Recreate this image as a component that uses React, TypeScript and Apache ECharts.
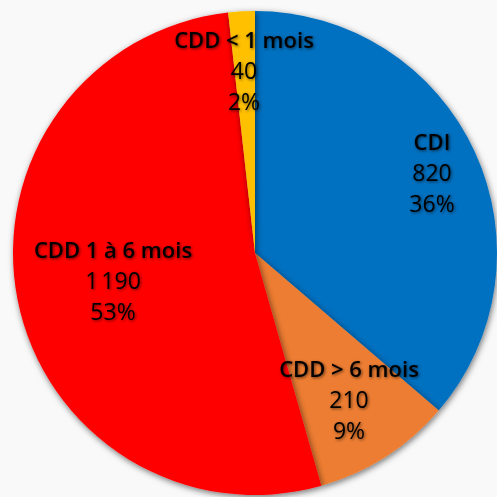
import React, { useEffect, useRef } from "react";
import * as echarts from "echarts";

const categories = ["CDI", "CDD > 6 mois", "CDD 1 à 6 mois", "CDD < 1 mois"];
const values = [820, 210, 1190, 40];
const colors = ["#0070C0", "#ED7D31", "#FF0000", "#FFC000"];
// label anchor positions (px) as placed in the reference
const labelX = [432, 349, 113, 244];
const labelY = [172, 399, 280, 70];

const fmt = (v: number) => String(v).replace(/\B(?=(\d{3})+(?!\d))/g, "\u202F");

const shadow = {
  textShadowColor: "rgba(0,0,0,0.6)",
  textShadowBlur: 3,
  textShadowOffsetX: 1,
  textShadowOffsetY: 1,
};

export default function App() {
  const ref = useRef<HTMLDivElement>(null);
  useEffect(() => {
    if (!ref.current) return;
    const chart = echarts.init(ref.current, undefined, { renderer: "svg" });
    chart.setOption({
      animation: false,
      backgroundColor: "#F9F9F9",
      series: [
        {
          type: "pie",
          center: [255, 253],
          radius: 242,
          startAngle: 90,
          clockwise: true,
          percentPrecision: 0,
          data: categories.map((c, i) => ({
            name: c,
            value: values[i],
            itemStyle: { color: colors[i] },
          })),
          itemStyle: {
            shadowBlur: 6,
            shadowColor: "rgba(0,0,0,0.55)",
            shadowOffsetX: 1,
            shadowOffsetY: 2,
            borderWidth: 0,
          },
          label: {
            show: true,
            position: "inside",
            fontFamily: "Open Sans",
            fontSize: 23,
            color: "#000",
            lineHeight: 31,
            ...shadow,
            formatter: (p: any) => `{n|${p.name}}\n{v|${fmt(p.value)}}\n{v|${Math.round(p.percent)}%}`,
            rich: {
              n: {
                fontFamily: "Open Sans",
                fontSize: 22,
                fontWeight: 600,
                color: "#000",
                lineHeight: 31,
                ...shadow,
              },
              v: {
                fontFamily: "Open Sans",
                fontSize: 23,
                color: "#000",
                lineHeight: 31,
                ...shadow,
              },
            },
          },
          labelLine: { show: false },
          labelLayout: (params: any) => ({
            x: labelX[params.dataIndex],
            y: labelY[params.dataIndex],
            align: "center",
            verticalAlign: "middle",
          }),
          emphasis: { disabled: true },
        },
      ],
    });
    return () => chart.dispose();
  }, []);
  return (
    <div
      ref={ref}
      style={{ position: "fixed", left: 0, top: 0, width: 497, height: 497 }}
    />
  );
}
